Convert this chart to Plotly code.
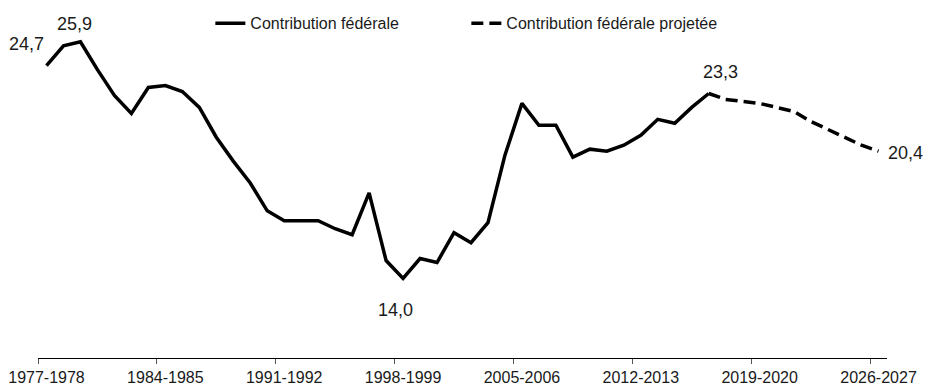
import plotly.graph_objects as go

# ---- data ----
categories = [f"{y}-{y+1}" for y in range(1977, 2027)]  # 1977-1978 ... 2026-2027

actual_values = [24.7, 25.7, 25.9, 24.5, 23.2, 22.3, 23.6, 23.7, 23.4, 22.6,
                 21.1, 19.9, 18.8, 17.4, 16.9, 16.9, 16.9, 16.5, 16.2, 18.3,
                 14.9, 14.0, 15.0, 14.8, 16.3, 15.8, 16.8, 20.2, 22.8, 21.7,
                 21.7, 20.1, 20.5, 20.4, 20.7, 21.2, 22.0, 21.8, 22.6, 23.3]
actual_categories = categories[:len(actual_values)]

projected_values = [23.3, 23.0, 22.9, 22.8, 22.6, 22.4, 21.9, 21.5, 21.1, 20.7, 20.4]
projected_categories = categories[len(actual_values) - 1:]

series_names = ["Contribution fédérale", "Contribution fédérale projetée"]

# labelled points: (category, value, text)
labels = [
    ("1977-1978", 24.7, "24,7"),
    ("1979-1980", 25.9, "25,9"),
    ("1998-1999", 14.0, "14,0"),
    ("2016-2017", 23.3, "23,3"),
    ("2026-2027", 20.4, "20,4"),
]

FONT = "Arial, 'Liberation Sans', sans-serif"
TXT = "#1a1a1a"

fig = go.Figure()
fig.add_trace(go.Scatter(
    x=actual_categories, y=actual_values, mode="lines", name=series_names[0],
    line=dict(color="black", width=3.5),
))
fig.add_trace(go.Scatter(
    x=projected_categories, y=projected_values, mode="lines", name=series_names[1],
    line=dict(color="black", width=3.5, dash="12px,6px"),
))

# label placement offsets (pixels)
shifts = {
    "24,7": dict(xanchor="right", yanchor="middle", xshift=0, yshift=22),
    "25,9": dict(xanchor="center", yanchor="middle", xshift=-6, yshift=18),
    "14,0": dict(xanchor="center", yanchor="middle", xshift=-8, yshift=-32),
    "23,3": dict(xanchor="center", yanchor="middle", xshift=12, yshift=21),
    "20,4": dict(xanchor="left", yanchor="middle", xshift=7, yshift=-2),
}
for cat, val, txt in labels:
    s = shifts[txt]
    fig.add_annotation(x=cat, y=val, text=txt, showarrow=False,
                       font=dict(family=FONT, size=18, color=TXT), **s)

fig.update_layout(
    width=925, height=386,
    margin=dict(l=38, r=38, t=0, b=28, autoexpand=False),
    paper_bgcolor="white", plot_bgcolor="white",
    font=dict(family=FONT, color=TXT),
    showlegend=True,
    legend=dict(
        orientation="h", x=0.203, xanchor="left", y=0.935, yanchor="middle",
        font=dict(family=FONT, size=16, color=TXT),
        entrywidth=211, entrywidthmode="pixels",
        bgcolor="rgba(0,0,0,0)", borderwidth=0,
    ),
    xaxis=dict(
        type="category", range=[-0.5, 49.5],
        tickmode="linear", tick0=0, dtick=7, tickson="boundaries",
        tickangle=0, automargin=False, ticklabelstandoff=5,
        ticks="outside", ticklen=5, tickwidth=1, tickcolor="#555",
        showline=True, linecolor="black", linewidth=1.3,
        showgrid=False, zeroline=False,
        tickfont=dict(family=FONT, size=16, color=TXT),
    ),
    yaxis=dict(range=[10, 28], visible=False, showgrid=False, zeroline=False,
               automargin=False),
)

fig.write_html("out.html")
